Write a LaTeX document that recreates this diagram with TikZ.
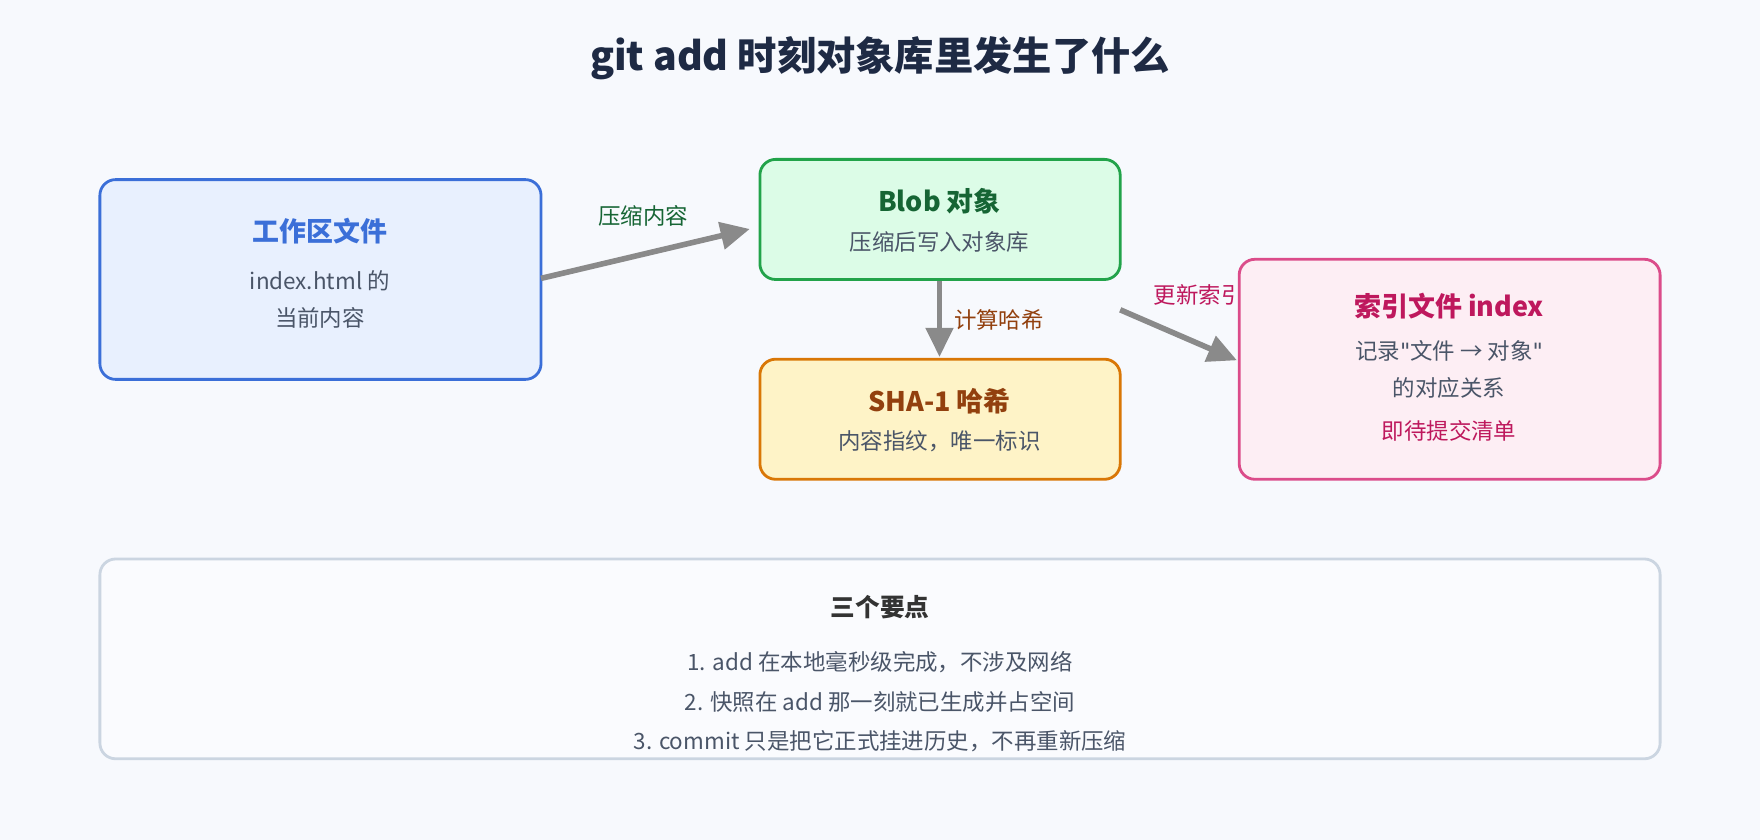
\documentclass[tikz,border=0pt]{standalone}
\usepackage{fontspec}
\setmainfont{Noto Sans CJK SC}
\newfontfamily\qf{DejaVu Sans}
\usetikzlibrary{arrows.meta, positioning}
\usepackage{xcolor}
\definecolor{bgc}{HTML}{F7F9FD}
\definecolor{navy}{HTML}{1E2A44}
\definecolor{txt}{HTML}{4A5568}
\definecolor{arr}{HTML}{8A8A8A}
\definecolor{blueb}{HTML}{3B6FD8}\definecolor{bluef}{HTML}{E8F0FE}
\definecolor{greenb}{HTML}{22A34A}\definecolor{greenf}{HTML}{DCFCE7}\definecolor{greent}{HTML}{166534}
\definecolor{orangeb}{HTML}{D97706}\definecolor{orangef}{HTML}{FEF3C7}\definecolor{oranget}{HTML}{92400E}
\definecolor{pinkb}{HTML}{DB4C8A}\definecolor{pinkf}{HTML}{FDEEF4}\definecolor{pinkt}{HTML}{BE185D}
\definecolor{grayb}{HTML}{CBD5E1}

\begin{document}
\begin{tikzpicture}[
x=1pt, y=-1pt,
box/.style={draw, rectangle, rounded corners=14pt, line width=2.5pt},
head/.style={font=\fontsize{24}{28}\selectfont\bfseries},
body/.style={font=\fontsize{20}{24}\selectfont, text=txt},
lbl/.style={font=\fontsize{20}{24}\selectfont},
arrow/.style={-{Triangle[length=26pt,width=24pt]}, line width=5pt, arr}
]
\fill[bgc] (0,0) rectangle (1568,748);
\useasboundingbox (0,0) rectangle (1568,748);

\node[font=\fontsize{35}{40}\selectfont\bfseries, text=navy] (title) at (784,52) {git add 时刻对象库里发生了什么};

% work file
\draw[box, blueb, fill=bluef] (89,160) rectangle (482,338);
\node[head, text=blueb] (work) at (285,206) {工作区文件};
\node[body] (work1) at (285,250) {index.html 的};
\node[body] (work2) at (285,283) {当前内容};

% blob
\draw[box, greenb, fill=greenf] (677,142) rectangle (998,249);
\node[head, text=greent] (blob) at (837,179) {Blob 对象};
\node[body] (blob1) at (837,216) {压缩后写入对象库};

% sha
\draw[box, orangeb, fill=orangef] (677,320) rectangle (998,427);
\node[head, text=oranget] (sha) at (837,357) {SHA-1 哈希};
\node[body] (sha1) at (837,393) {内容指纹，唯一标识};

% arrows
\coordinate (a1s) at (482,248);
\coordinate (a1e) at (668,204);
\coordinate (a2s) at (837,250);
\coordinate (a2e) at (837,318);
\coordinate (a3s) at (998,276);
\coordinate (a3e) at (1102,321);
\draw[arrow] (a1s) -- (a1e);
\draw[arrow] (a2s) -- (a2e);
\draw[arrow] (a3s) -- (a3e);
\node[lbl, text=greent] (l1) at (573,192) {压缩内容};
\node[lbl, text=oranget] (l2) at (890,285) {计算哈希};
\node[lbl, text=pinkt] (l3) at (1068,263) {更新索引};

% index
\draw[box, pinkb, fill=pinkf] (1104,231) rectangle (1479,427);
\node[head, text=pinkt] (idx) at (1291,273) {索引文件 index};
\node[body] (idx1) at (1291,313) {记录{\qf"}文件 → 对象{\qf"}};
\node[body] (idx2) at (1291,346) {的对应关系};
\node[lbl, text=pinkt] (idx3) at (1291,384) {即待提交清单};

% key points
\draw[box, grayb, fill=bgc!60!white] (89,498) rectangle (1479,676);
\node[font=\fontsize{22}{26}\selectfont\bfseries, text=black!80] (pts) at (784,541) {三个要点};
\node[body] (p1) at (784,590) {1. add 在本地毫秒级完成，不涉及网络};
\node[body] (p2) at (784,625) {2. 快照在 add 那一刻就已生成并占空间};
\node[body] (p3) at (784,660) {3. commit 只是把它正式挂进历史，不再重新压缩};
\end{tikzpicture}
\end{document}
